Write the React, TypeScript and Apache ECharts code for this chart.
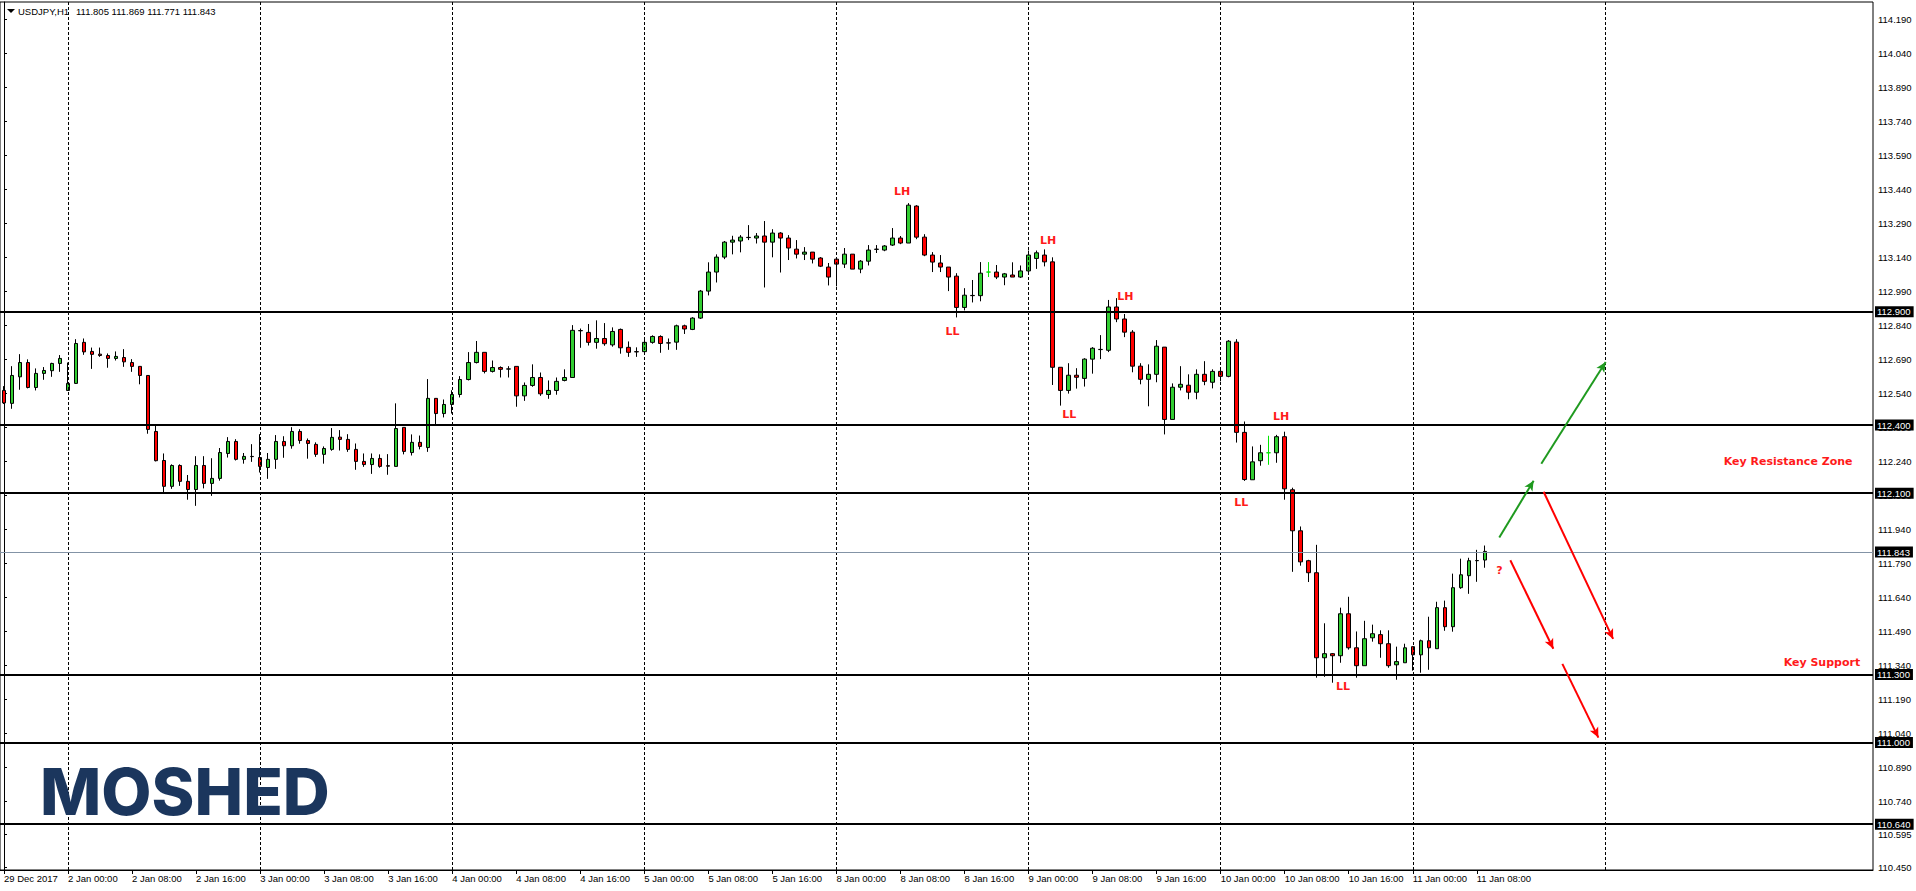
import React, { useEffect, useRef } from "react";
import * as echarts from "echarts";

// ---------- DATA (hourly bars, [open, high, low, close]) ----------
type Bar = [number, number, number, number];

const dec29: Bar[] = [
  [112.553, 112.572, 112.493, 112.498], [112.496, 112.660, 112.472, 112.619],
  [112.613, 112.713, 112.556, 112.676], [112.676, 112.690, 112.562, 112.566],
  [112.566, 112.650, 112.553, 112.628], [112.628, 112.656, 112.600, 112.641],
  [112.640, 112.675, 112.613, 112.672], [112.672, 112.709, 112.635, 112.694],
];
const jan02: Bar[] = [
  [112.553, 112.676, 112.551, 112.584], [112.584, 112.779, 112.582, 112.760],
  [112.765, 112.782, 112.710, 112.723], [112.725, 112.742, 112.648, 112.712],
  [112.713, 112.742, 112.701, 112.707], [112.707, 112.716, 112.653, 112.694],
  [112.694, 112.725, 112.685, 112.703], [112.698, 112.735, 112.657, 112.679],
  [112.676, 112.691, 112.635, 112.659], [112.659, 112.659, 112.580, 112.619],
  [112.619, 112.619, 112.362, 112.381], [112.372, 112.396, 112.240, 112.243],
  [112.244, 112.275, 112.103, 112.130], [112.130, 112.227, 112.119, 112.222],
  [112.222, 112.227, 112.132, 112.152], [112.152, 112.180, 112.071, 112.116],
  [112.116, 112.263, 112.044, 112.222], [112.222, 112.263, 112.121, 112.143],
  [112.143, 112.254, 112.088, 112.165], [112.165, 112.299, 112.155, 112.279],
  [112.275, 112.347, 112.257, 112.328], [112.328, 112.338, 112.244, 112.249],
  [112.249, 112.277, 112.230, 112.262], [112.262, 112.316, 112.238, 112.261],
];
const jan03: Bar[] = [
  [112.257, 112.360, 112.191, 112.218], [112.213, 112.277, 112.163, 112.249],
  [112.249, 112.356, 112.207, 112.328], [112.328, 112.351, 112.256, 112.309],
  [112.309, 112.391, 112.296, 112.372], [112.372, 112.382, 112.318, 112.332],
  [112.332, 112.341, 112.252, 112.319], [112.315, 112.324, 112.260, 112.271],
  [112.271, 112.306, 112.230, 112.297], [112.293, 112.387, 112.287, 112.346],
  [112.347, 112.378, 112.288, 112.337], [112.337, 112.360, 112.282, 112.293],
  [112.293, 112.319, 112.203, 112.240], [112.240, 112.275, 112.216, 112.226],
  [112.226, 112.275, 112.185, 112.253], [112.253, 112.271, 112.212, 112.218],
  [112.221, 112.272, 112.181, 112.219], [112.218, 112.496, 112.218, 112.385],
  [112.390, 112.390, 112.271, 112.284], [112.279, 112.359, 112.266, 112.324],
  [112.324, 112.354, 112.293, 112.306], [112.301, 112.603, 112.282, 112.518],
  [112.518, 112.518, 112.403, 112.451], [112.451, 112.513, 112.434, 112.491],
];
const jan04: Bar[] = [
  [112.491, 112.554, 112.451, 112.535], [112.535, 112.616, 112.522, 112.601],
  [112.601, 112.722, 112.597, 112.676], [112.676, 112.771, 112.672, 112.721],
  [112.721, 112.721, 112.628, 112.637], [112.637, 112.685, 112.632, 112.654],
  [112.654, 112.659, 112.610, 112.646], [112.648, 112.660, 112.610, 112.647],
  [112.659, 112.659, 112.481, 112.529], [112.529, 112.588, 112.507, 112.575],
  [112.575, 112.668, 112.569, 112.610], [112.610, 112.632, 112.529, 112.538],
  [112.535, 112.597, 112.516, 112.553], [112.553, 112.610, 112.534, 112.593],
  [112.597, 112.646, 112.593, 112.610], [112.610, 112.841, 112.610, 112.818],
  [112.817, 112.826, 112.741, 112.816], [112.809, 112.846, 112.751, 112.765],
  [112.765, 112.862, 112.737, 112.782], [112.782, 112.850, 112.750, 112.759],
  [112.754, 112.831, 112.746, 112.813], [112.822, 112.826, 112.715, 112.741],
  [112.743, 112.769, 112.701, 112.721], [112.724, 112.743, 112.701, 112.723],
];
const jan05: Bar[] = [
  [112.724, 112.782, 112.716, 112.765], [112.765, 112.796, 112.759, 112.791],
  [112.791, 112.796, 112.719, 112.760], [112.763, 112.782, 112.732, 112.762],
  [112.766, 112.843, 112.732, 112.838], [112.838, 112.843, 112.802, 112.824],
  [112.822, 112.876, 112.819, 112.872], [112.872, 112.996, 112.868, 112.991],
  [112.991, 113.118, 112.972, 113.075], [113.075, 113.153, 113.029, 113.141],
  [113.141, 113.212, 113.132, 113.207], [113.207, 113.235, 113.153, 113.216],
  [113.212, 113.238, 113.162, 113.229], [113.228, 113.282, 113.216, 113.227],
  [113.225, 113.247, 113.201, 113.234], [113.234, 113.300, 113.007, 113.207],
  [113.207, 113.264, 113.140, 113.247], [113.247, 113.251, 113.073, 113.225],
  [113.225, 113.238, 113.128, 113.181], [113.176, 113.216, 113.135, 113.154],
  [113.154, 113.185, 113.128, 113.163], [113.163, 113.163, 113.113, 113.132],
  [113.137, 113.141, 113.097, 113.101], [113.097, 113.115, 113.016, 113.053],
];
const jan08: Bar[] = [
  [113.132, 113.141, 113.012, 113.110], [113.110, 113.181, 113.093, 113.154],
  [113.154, 113.154, 113.088, 113.088], [113.088, 113.128, 113.070, 113.123],
  [113.123, 113.194, 113.104, 113.172], [113.175, 113.194, 113.159, 113.176],
  [113.172, 113.194, 113.167, 113.190], [113.194, 113.269, 113.190, 113.225],
  [113.225, 113.234, 113.198, 113.203], [113.203, 113.379, 113.203, 113.370],
  [113.366, 113.370, 113.220, 113.229], [113.229, 113.242, 113.145, 113.150],
  [113.150, 113.163, 113.075, 113.119], [113.115, 113.150, 113.075, 113.097],
  [113.097, 113.097, 112.991, 113.053], [113.057, 113.070, 112.875, 112.919],
  [112.919, 113.004, 112.906, 112.973], [112.972, 113.040, 112.941, 112.971],
  [112.971, 113.119, 112.946, 113.070], [113.075, 113.119, 113.053, 113.075],
  [113.075, 113.106, 113.044, 113.053], [113.053, 113.071, 113.017, 113.067],
  [113.062, 113.118, 113.053, 113.053], [113.053, 113.104, 113.049, 113.080],
];
const jan09: Bar[] = [
  [113.080, 113.170, 113.075, 113.150], [113.135, 113.170, 113.089, 113.160],
  [113.150, 113.175, 113.100, 113.120], [113.120, 113.140, 112.577, 112.655],
  [112.655, 112.655, 112.486, 112.553], [112.553, 112.673, 112.539, 112.620],
  [112.620, 112.651, 112.561, 112.611], [112.606, 112.695, 112.570, 112.691],
  [112.691, 112.744, 112.627, 112.739], [112.734, 112.797, 112.691, 112.733],
  [112.730, 112.952, 112.722, 112.921], [112.921, 112.960, 112.854, 112.868],
  [112.868, 112.890, 112.788, 112.810], [112.810, 112.819, 112.633, 112.660],
  [112.660, 112.673, 112.580, 112.602], [112.602, 112.668, 112.483, 112.624],
  [112.624, 112.775, 112.589, 112.748], [112.744, 112.744, 112.359, 112.425],
  [112.425, 112.584, 112.425, 112.567], [112.567, 112.660, 112.553, 112.580],
  [112.576, 112.624, 112.514, 112.545], [112.545, 112.646, 112.514, 112.624],
  [112.624, 112.682, 112.576, 112.593], [112.589, 112.646, 112.562, 112.637],
];
const jan10: Bar[] = [
  [112.637, 112.655, 112.593, 112.615], [112.615, 112.775, 112.611, 112.770],
  [112.766, 112.779, 112.323, 112.368], [112.368, 112.416, 112.154, 112.160],
  [112.159, 112.306, 112.159, 112.238], [112.243, 112.313, 112.221, 112.278],
  [112.278, 112.353, 112.225, 112.278], [112.278, 112.357, 112.234, 112.349],
  [112.349, 112.371, 112.071, 112.119], [112.115, 112.124, 111.753, 111.934],
  [111.934, 111.953, 111.780, 111.797], [111.802, 111.806, 111.708, 111.749],
  [111.749, 111.872, 111.286, 111.374], [111.374, 111.526, 111.290, 111.392],
  [111.392, 111.395, 111.264, 111.383], [111.383, 111.595, 111.352, 111.568],
  [111.568, 111.643, 111.410, 111.418], [111.418, 111.490, 111.286, 111.339],
  [111.339, 111.537, 111.339, 111.458], [111.462, 111.520, 111.445, 111.480],
  [111.476, 111.495, 111.374, 111.436], [111.436, 111.495, 111.330, 111.339],
  [111.343, 111.423, 111.277, 111.357], [111.352, 111.436, 111.352, 111.418],
];
const jan11: Bar[] = [
  [111.423, 111.423, 111.317, 111.387], [111.387, 111.454, 111.308, 111.449],
  [111.449, 111.555, 111.321, 111.418], [111.414, 111.621, 111.414, 111.595],
  [111.595, 111.626, 111.493, 111.511], [111.511, 111.745, 111.489, 111.683],
  [111.683, 111.811, 111.678, 111.740], [111.736, 111.815, 111.656, 111.802],
  [111.802, 111.850, 111.709, 111.803], [111.805, 111.869, 111.771, 111.843],
];

// session days shown on the time axis (label, first hour, number of hourly slots)
const sessionDays: [string, number, number][] = [
  ["29 Dec", 16, 8], ["2 Jan", 0, 24], ["3 Jan", 0, 24], ["4 Jan", 0, 24],
  ["5 Jan", 0, 24], ["8 Jan", 0, 24], ["9 Jan", 0, 24], ["10 Jan", 0, 24],
  ["11 Jan", 0, 24], ["12 Jan", 0, 24], ["15 Jan", 0, 10],
];
const firstLabel = "29 Dec 2017";
const labelEvery = 8;

// bars whose doji is drawn in lime
const limeDojiBars = [123, 158];

// price axis tick labels
const yTicks = [
  114.19, 114.04, 113.89, 113.74, 113.59, 113.44, 113.29, 113.14, 112.99,
  112.84, 112.69, 112.54, 112.39, 112.24, 112.09, 111.94, 111.79, 111.64,
  111.49, 111.34, 111.19, 111.04, 110.89, 110.74, 110.595, 110.45,
];
const priceMin = 110.438;
const priceMax = 114.266;

// horizontal levels and current bid
const levels = [112.9, 112.4, 112.1, 111.3, 111.0, 110.64];
const bidLevel = 111.843;

// day separators (bar indices)
const dayBreaks = [8, 32, 56, 80, 104, 128, 152, 176, 200];

// arrows: [barFrom, priceFrom, barTo, priceTo]
const bullishArrows: [number, number, number, number][] = [
  [186.81, 111.904, 191.1, 112.155],
  [192.06, 112.23, 200.1, 112.678],
];
const bearishArrows: [number, number, number, number][] = [
  [192.35, 112.106, 201.03, 111.457],
  [188.19, 111.804, 193.56, 111.414],
  [194.69, 111.347, 199.19, 111.022],
];

// swing labels: [bar, price, text]
const swingLabels: [number, number, string][] = [
  [112.2, 113.432, "LH"], [118.5, 112.815, "LL"], [130.44, 113.212, "LH"],
  [133.1, 112.449, "LL"], [140.1, 112.966, "LH"], [154.56, 112.057, "LL"],
  [159.56, 112.437, "LH"], [167.3, 111.247, "LL"], [186.84, 111.761, "?"],
];
// zone labels (right edge bar, price, text)
const zoneLabels: [number, number, string][] = [
  [230.94, 112.239, "Key Resistance Zone"],
  [231.9, 111.352, "Key Support"],
];

const symbolName = "USDJPY,H1";
const logoText = "MOSHED";

// ---------- BUILD ----------
const bars: Bar[] = [
  ...dec29, ...jan02, ...jan03, ...jan04, ...jan05,
  ...jan08, ...jan09, ...jan10, ...jan11,
];
const categories: string[] = [];
sessionDays.forEach(([d, h0, n]) => {
  for (let i = 0; i < n; i++) {
    const h = h0 + i;
    categories.push(`${d} ${String(h).padStart(2, "0")}:00`);
  }
});
const lastIdx = bars.length - 1;
const showLabel = (i: number) => i % labelEvery === 0 && i < lastIdx;

const FONT = "'Liberation Sans', Arial, sans-serif";
const NOTE_FONT = "'DejaVu Sans', Verdana, sans-serif";
const UP = "#32cd32";
const DOWN = "#ff0000";
const NOTE_RED = "#ff1a1a";

const candleData = bars.map(([o, h, l, c], i) => {
  const item: any = { value: [o, c, l, h] };
  if (limeDojiBars.includes(i)) {
    item.itemStyle = {
      borderColor: "#00e600",
      borderColor0: "#00e600",
      borderColorDoji: "#00e600",
    };
  }
  return item;
});

const last = bars[lastIdx];

function buildOption(): any {
  return {
    animation: false,
    backgroundColor: "#ffffff",
    grid: {
      left: 0,
      right: 43,
      top: 2,
      bottom: 21,
      show: true,
      borderColor: "#000",
      borderWidth: 1,
      backgroundColor: "transparent",
    },
    xAxis: [
      {
        type: "category",
        data: categories,
        boundaryGap: true,
        axisLine: { show: true, lineStyle: { color: "#000", width: 1 } },
        axisTick: {
          show: true,
          alignWithLabel: true,
          interval: (i: number) => showLabel(i),
          length: 4,
          lineStyle: { color: "#000" },
        },
        axisLabel: {
          interval: (i: number) => showLabel(i),
          formatter: (v: string, i: number) => (i === 0 ? firstLabel : v),
          align: "left",
          margin: 3,
          color: "#000",
          fontSize: 9.5,
          fontFamily: FONT,
        },
        splitLine: { show: false },
      },
      {
        type: "value",
        min: -0.5,
        max: categories.length - 0.5,
        show: false,
        splitLine: { show: false },
      },
    ],
    yAxis: {
      type: "value",
      position: "right",
      min: priceMin,
      max: priceMax,
      splitLine: { show: false },
      axisLine: { show: true, lineStyle: { color: "#000", width: 1 } },
      axisTick: {
        show: true,
        customValues: yTicks,
        length: 3,
        lineStyle: { color: "#000" },
      },
      axisLabel: {
        customValues: yTicks,
        formatter: (v: number) => v.toFixed(3),
        margin: 5,
        color: "#000",
        fontSize: 9.5,
        fontFamily: FONT,
      },
    },
    series: [
      {
        name: "days",
        type: "line",
        xAxisIndex: 1,
        yAxisIndex: 0,
        data: [],
        z: 1,
        silent: true,
        markLine: {
          silent: true,
          symbol: ["none", "none"],
          label: { show: false },
          lineStyle: { color: "#000", width: 1, type: [3, 2] },
          data: dayBreaks.map((k) => ({ xAxis: k })),
        },
      },
      {
        name: symbolName,
        type: "candlestick",
        xAxisIndex: 0,
        yAxisIndex: 0,
        barWidth: 4,
        z: 2,
        itemStyle: {
          color: UP,
          color0: DOWN,
          borderColor: "#000",
          borderColor0: "#000",
          borderWidth: 1,
        },
        data: candleData,
      },
      {
        name: "levels",
        type: "line",
        xAxisIndex: 1,
        yAxisIndex: 0,
        data: [],
        z: 4,
        silent: true,
        markLine: {
          silent: true,
          symbol: ["none", "none"],
          label: {
            show: true,
            position: "end",
            distance: 2,
            backgroundColor: "#000",
            color: "#fff",
            padding: [1, 3, 0, 2],
            fontSize: 9.5,
            fontFamily: FONT,
          },
          data: [
            ...levels.map((v) => ({
              yAxis: v,
              lineStyle: { color: "#000", width: 2, type: "solid" },
              label: { formatter: v.toFixed(3) },
            })),
            {
              yAxis: bidLevel,
              lineStyle: { color: "#8393a6", width: 1, type: "solid" },
              label: { formatter: bidLevel.toFixed(3) },
            },
          ],
        },
      },
      {
        name: "arrows",
        type: "line",
        xAxisIndex: 1,
        yAxisIndex: 0,
        data: [],
        z: 5,
        silent: true,
        markLine: {
          silent: true,
          symbol: ["none", "arrow"],
          symbolSize: [7, 10],
          label: { show: false },
          data: [
            ...bullishArrows.map(([a, b, c, d]) => [
              { coord: [a, b], lineStyle: { color: "#1f9a1f", width: 2, type: "solid" } },
              { coord: [c, d] },
            ]),
            ...bearishArrows.map(([a, b, c, d]) => [
              { coord: [a, b], lineStyle: { color: "#ff0000", width: 2, type: "solid" } },
              { coord: [c, d] },
            ]),
          ],
        },
      },
      {
        name: "notes",
        type: "line",
        xAxisIndex: 1,
        yAxisIndex: 0,
        data: [],
        z: 6,
        silent: true,
        markPoint: {
          silent: true,
          symbol: "rect",
          symbolSize: 1,
          itemStyle: { color: "rgba(0,0,0,0)" },
          data: [
            ...swingLabels.map(([k, p, t]) => ({
              coord: [k, p],
              value: t,
              label: {
                show: true,
                position: "inside",
                formatter: t,
                color: NOTE_RED,
                fontWeight: "bold",
                fontSize: 11,
                fontFamily: NOTE_FONT,
              },
            })),
            ...zoneLabels.map(([k, p, t]) => ({
              coord: [k, p],
              value: t,
              label: {
                show: true,
                position: "inside",
                align: "right",
                formatter: t,
                color: NOTE_RED,
                fontWeight: "bold",
                fontSize: 11,
                fontFamily: NOTE_FONT,
              },
            })),
          ],
        },
      },
    ],
    graphic: [
      {
        type: "polygon",
        shape: { points: [[7, 9], [15, 9], [11, 13]] },
        style: { fill: "#000" },
        z: 10,
      },
      {
        type: "text",
        x: 18,
        y: 11,
        z: 10,
        style: {
          text: symbolName,
          fill: "#000",
          fontSize: 9.5,
          fontFamily: FONT,
          verticalAlign: "middle",
        },
      },
      {
        type: "text",
        x: 76,
        y: 11,
        z: 10,
        style: {
          text: `${last[0].toFixed(3)} ${last[1].toFixed(3)} ${last[2].toFixed(3)} ${last[3].toFixed(3)}`,
          fill: "#000",
          fontSize: 9.5,
          fontFamily: FONT,
          verticalAlign: "middle",
        },
      },
      {
        type: "text",
        x: 40,
        y: 791,
        z: 10,
        style: {
          text: logoText,
          fill: "#1b365d",
          fontSize: 65,
          fontWeight: 800,
          fontFamily: "Inter, 'Open Sans', sans-serif",
          verticalAlign: "middle",
        },
      },
    ],
  };
}

export default function App() {
  const ref = useRef<HTMLDivElement>(null);
  useEffect(() => {
    document.body.style.margin = "0";
    const chart = echarts.init(ref.current!, null, { renderer: "svg" });
    chart.setOption(buildOption());
    return () => chart.dispose();
  }, []);
  return (
    <div
      ref={ref}
      style={{
        position: "fixed",
        left: 0,
        top: 0,
        width: 1916,
        height: 891,
        background: "#fff",
      }}
    />
  );
}
